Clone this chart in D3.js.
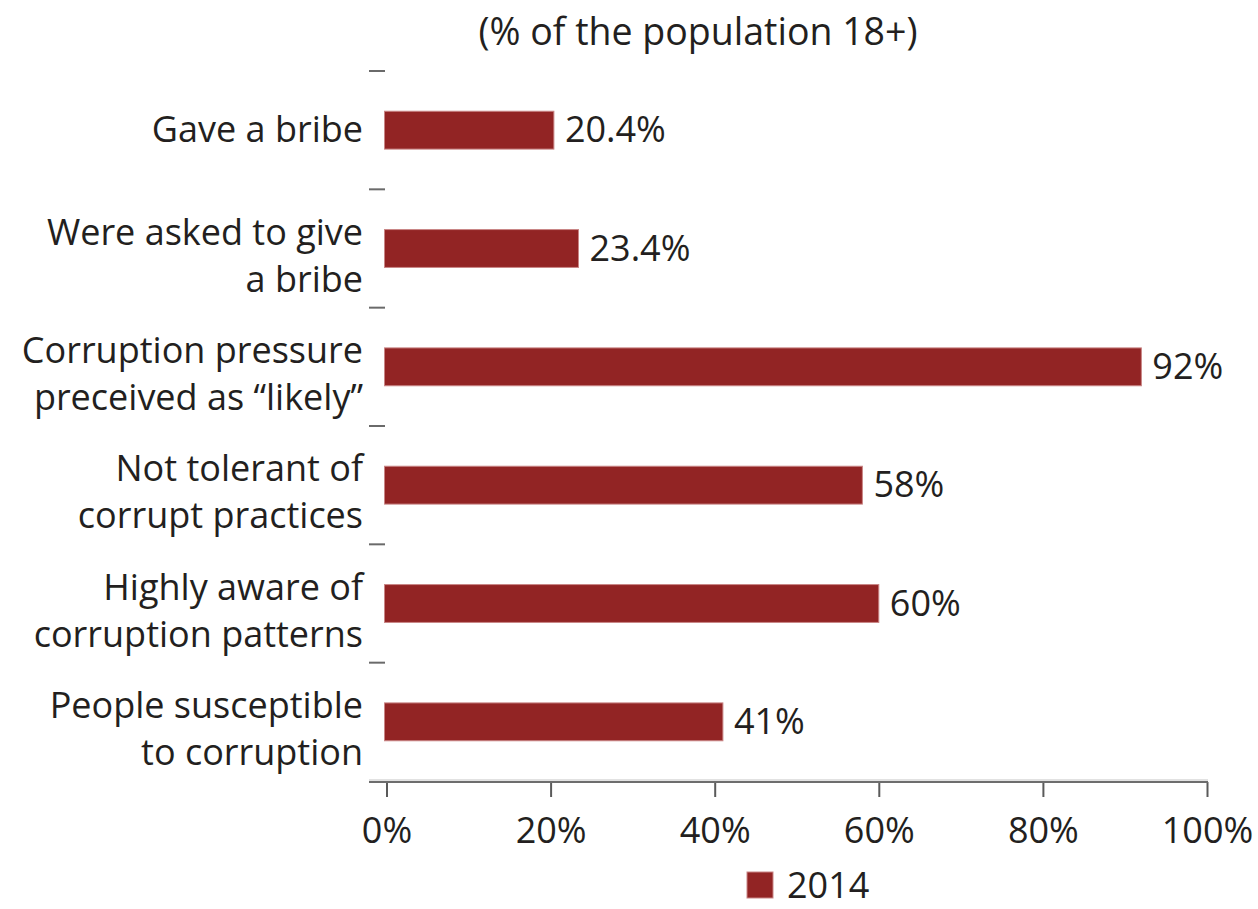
<!DOCTYPE html>
<html>
<head>
<meta charset="utf-8">
<script src="https://cdn.jsdelivr.net/npm/d3@7"></script>
<style>
  html, body { margin: 0; padding: 0; background: #ffffff; }
  svg { display: block; }
  text { font-family: "Open Sans", "Noto Sans", sans-serif; fill: #231f20; }
</style>
</head>
<body>
<svg id="chart" width="1258" height="909"></svg>
<script>
// Survey indicators, 2014 (% of the population 18+)
const categories = [
  ["Gave a bribe"],
  ["Were asked to give", "a bribe"],
  ["Corruption pressure", "preceived as \u201clikely\u201d"],
  ["Not tolerant of", "corrupt practices"],
  ["Highly aware of", "corruption patterns"],
  ["People susceptible", "to corruption"]
];
const values = [20.4, 23.4, 92, 58, 60, 41];
const valueLabels = ["20.4%", "23.4%", "92%", "58%", "60%", "41%"];
const xTicks = [0, 20, 40, 60, 80, 100];
const seriesName = "2014";
const title = "(% of the population 18+)";

const barColor = "#922424";
const fontSize = 36;

const svg = d3.select("#chart");

const x = d3.scaleLinear().domain([0, 100]).range([386.5, 1207]);
const y = d3.scaleBand()
  .domain(d3.range(categories.length))
  .range([71, 781])
  .paddingInner(0.68)
  .paddingOuter(0.34);
const axisY = 782;

// Title
svg.append("text")
  .attr("x", 698)
  .attr("y", 45)
  .attr("text-anchor", "middle")
  .style("font-size", "37.5px")
  .text(title);

// Category separators on the left side
const sepG = svg.append("g");
d3.range(categories.length).forEach(i => {
  const yy = y(i) - y.step() * y.paddingOuter();
  sepG.append("line")
    .attr("x1", 369).attr("x2", 385)
    .attr("y1", yy).attr("y2", yy)
    .attr("stroke", "#6a6a6a")
    .attr("stroke-width", 2);
});

// Bars
svg.append("g").selectAll("rect")
  .data(values)
  .join("rect")
  .attr("x", x(0) - 2)
  .attr("y", (d, i) => y(i))
  .attr("width", d => x(d) - x(0) + 2)
  .attr("height", y.bandwidth())
  .attr("fill", barColor)
  .attr("stroke", "#c98585")
  .attr("stroke-width", 1);

// Value labels
svg.append("g").selectAll("text")
  .data(values)
  .join("text")
  .attr("x", d => x(d) + 11)
  .attr("y", (d, i) => y(i) + y.bandwidth() / 2 + 12)
  .style("font-size", fontSize + "px")
  .text((d, i) => valueLabels[i]);

// Category labels
const catG = svg.append("g");
categories.forEach((lines, i) => {
  const cy = y(i) + y.bandwidth() / 2;
  const t = catG.append("text")
    .attr("text-anchor", "end")
    .style("font-size", fontSize + "px");
  lines.forEach((line, j) => {
    const base = lines.length === 1 ? cy + 12 : cy - 4 + j * 47;
    t.append("tspan").attr("x", 363).attr("y", base).text(line);
  });
});

// X axis
const xAxis = d3.axisBottom(x)
  .tickValues(xTicks)
  .tickFormat(d => d + "%")
  .tickSize(15)
  .tickSizeOuter(0);

const gx = svg.append("g")
  .attr("transform", `translate(0,${axisY})`)
  .call(xAxis);
gx.select(".domain").remove();
gx.selectAll(".tick line")
  .attr("stroke", "#5a5a5a")
  .attr("stroke-width", 2);
gx.selectAll(".tick text")
  .attr("y", 61)
  .attr("dy", null)
  .style("font-size", fontSize + "px")
  .style("font-family", "'Open Sans', 'Noto Sans', sans-serif")
  .attr("fill", "#231f20");
gx.append("line")
  .attr("x1", 369).attr("x2", x(100) + 1)
  .attr("y1", 0).attr("y2", 0)
  .attr("stroke", "#6d6d6d")
  .attr("stroke-width", 2);
gx.append("line")
  .attr("x1", 369).attr("x2", x(100) + 1)
  .attr("y1", -2).attr("y2", -2)
  .attr("stroke", "#e2e2e2")
  .attr("stroke-width", 2);

// Legend
const lg = svg.append("g").attr("transform", "translate(747,872)");
lg.append("rect")
  .attr("width", 26).attr("height", 26)
  .attr("fill", barColor)
  .attr("stroke", "#c98585")
  .attr("stroke-width", 1);
lg.append("text")
  .attr("x", 40).attr("y", 26)
  .style("font-size", fontSize + "px")
  .text(seriesName);
</script>
</body>
</html>
